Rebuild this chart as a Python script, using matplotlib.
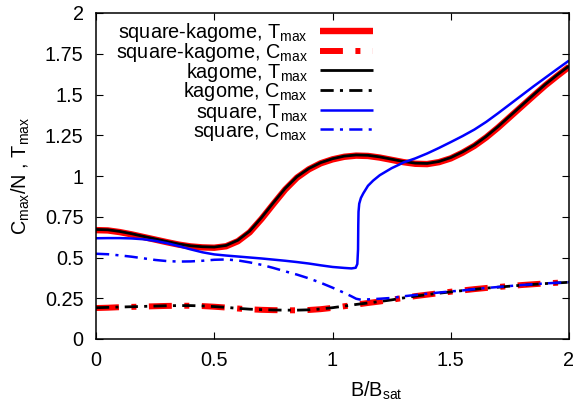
"""Peak positions of specific heat and temperature versus field."""

import matplotlib
matplotlib.use("Agg")
import matplotlib.pyplot as plt
from matplotlib.ticker import FixedLocator, FuncFormatter

plt.rcParams["font.family"] = ["Liberation Sans", "DejaVu Sans"]
plt.rcParams["mathtext.fontset"] = "custom"
plt.rcParams["mathtext.rm"] = "Liberation Sans"
plt.rcParams["mathtext.default"] = "regular"
plt.rcParams["lines.scale_dashes"] = False

FS = 14.3

# field grid used for the kagome-type curves
b_grid = [0.00, 0.05, 0.10, 0.15, 0.20, 0.25, 0.30, 0.35, 0.40, 0.45,
          0.50, 0.55, 0.60, 0.65, 0.70, 0.75, 0.80, 0.85, 0.90, 0.95,
          1.00, 1.05, 1.10, 1.15, 1.20, 1.25, 1.30, 1.35, 1.40, 1.45,
          1.50, 1.55, 1.60, 1.65, 1.70, 1.75, 1.80, 1.85, 1.90, 1.95, 2.00]

kag_t = [0.672, 0.670, 0.660, 0.646, 0.630, 0.614, 0.598, 0.583, 0.572, 0.566,
         0.564, 0.574, 0.606, 0.662, 0.745, 0.836, 0.924, 0.996, 1.046, 1.082,
         1.106, 1.122, 1.129, 1.127, 1.117, 1.103, 1.089, 1.079, 1.077, 1.089,
         1.113, 1.148, 1.190, 1.243, 1.303, 1.368, 1.433, 1.498, 1.562, 1.620, 1.675]

sqk_t = [0.668, 0.666, 0.656, 0.642, 0.626, 0.610, 0.594, 0.579, 0.568, 0.562,
         0.560, 0.569, 0.600, 0.655, 0.737, 0.828, 0.917, 0.990, 1.041, 1.078,
         1.102, 1.118, 1.125, 1.123, 1.113, 1.099, 1.085, 1.075, 1.073, 1.085,
         1.108, 1.143, 1.185, 1.237, 1.297, 1.362, 1.427, 1.492, 1.556, 1.614, 1.670]

kag_c = [0.192, 0.194, 0.196, 0.198, 0.200, 0.202, 0.204, 0.205, 0.205, 0.203,
         0.199, 0.194, 0.188, 0.183, 0.180, 0.178, 0.177, 0.177, 0.179, 0.184,
         0.192, 0.202, 0.212, 0.221, 0.230, 0.240, 0.252, 0.263, 0.272, 0.281,
         0.289, 0.297, 0.305, 0.312, 0.318, 0.324, 0.330, 0.335, 0.340, 0.344, 0.348]

sqk_c = [0.190, 0.192, 0.195, 0.197, 0.199, 0.201, 0.203, 0.204, 0.204, 0.202,
         0.198, 0.193, 0.187, 0.182, 0.179, 0.177, 0.176, 0.176, 0.178, 0.183,
         0.191, 0.201, 0.211, 0.221, 0.230, 0.241, 0.252, 0.263, 0.272, 0.281,
         0.290, 0.298, 0.306, 0.313, 0.319, 0.325, 0.331, 0.336, 0.341, 0.345, 0.349]

# square lattice: finer sampling around the jump near B ~ 1.1
sq_t_b = [0.00, 0.05, 0.10, 0.15, 0.20, 0.25, 0.30, 0.35, 0.40, 0.45,
          0.50, 0.55, 0.60, 0.65, 0.70, 0.75, 0.80, 0.85, 0.90, 0.95,
          1.00, 1.05, 1.08, 1.098, 1.105, 1.108, 1.109, 1.110, 1.113, 1.12,
          1.13, 1.15, 1.172, 1.20, 1.229, 1.25, 1.285, 1.30, 1.35, 1.40,
          1.45, 1.50, 1.55, 1.60, 1.65, 1.70, 1.75, 1.80, 1.85, 1.90, 1.95, 2.00]
sq_t = [0.618, 0.619, 0.619, 0.617, 0.612, 0.602, 0.588, 0.570, 0.550, 0.532,
        0.519, 0.512, 0.506, 0.500, 0.494, 0.487, 0.480, 0.472, 0.463, 0.452,
        0.442, 0.436, 0.433, 0.437, 0.460, 0.550, 0.700, 0.780, 0.830, 0.865,
        0.893, 0.940, 0.972, 1.005, 1.030, 1.048, 1.072, 1.083, 1.108, 1.138,
        1.172, 1.208, 1.245, 1.285, 1.332, 1.385, 1.440, 1.495, 1.550, 1.603, 1.656, 1.708]

sq_c_b = [0.00, 0.05, 0.10, 0.15, 0.20, 0.25, 0.30, 0.35, 0.40, 0.45,
          0.50, 0.55, 0.60, 0.65, 0.70, 0.75, 0.80, 0.85, 0.90, 0.95,
          1.00, 1.05, 1.08, 1.10, 1.12, 1.15, 1.20, 1.25, 1.30, 1.35,
          1.40, 1.45, 1.50, 1.55, 1.60, 1.65, 1.70, 1.75, 1.80, 1.85, 1.90, 1.95, 2.00]
sq_c = [0.523, 0.520, 0.513, 0.505, 0.495, 0.485, 0.478, 0.475, 0.476, 0.480,
        0.486, 0.488, 0.482, 0.470, 0.455, 0.436, 0.415, 0.395, 0.372, 0.345,
        0.315, 0.283, 0.262, 0.247, 0.241, 0.243, 0.247, 0.252, 0.262, 0.270,
        0.278, 0.285, 0.292, 0.298, 0.306, 0.313, 0.319, 0.325, 0.331, 0.336, 0.341, 0.345, 0.349]

DASH_THICK = (0, (16.5, 9.0, 3.6, 9.0))
DASH_THIN = (0, (9.5, 4.5, 2.2, 4.5))

series = [
    (b_grid, sqk_t, "red", 4.6, "-", "square-kagome, T$_{max}$"),
    (b_grid, sqk_c, "red", 4.3, DASH_THICK, "square-kagome, C$_{max}$"),
    (b_grid, kag_t, "black", 2.0, "-", "kagome, T$_{max}$"),
    (b_grid, kag_c, "black", 2.0, DASH_THIN, "kagome, C$_{max}$"),
    (sq_t_b, sq_t, "blue", 1.8, "-", "square, T$_{max}$"),
    (sq_c_b, sq_c, "blue", 1.8, DASH_THIN, "square, C$_{max}$"),
]

fig = plt.figure(figsize=(5.76, 4.03), dpi=100)
ax = fig.add_axes([96 / 576, 64 / 403, 473 / 576, 326 / 403])

for x, y, col, lw, ls, lab in series:
    ax.plot(x, y, color=col, lw=lw, linestyle=ls, solid_capstyle="butt",
            dash_capstyle="butt")

# gnuplot-style key: right-aligned labels, samples to the right
row_y = [0.946, 0.884, 0.824, 0.764, 0.702, 0.643]
for (x, y, col, lw, ls, lab), ry in zip(series, row_y):
    ax.plot([0.474, 0.586], [ry, ry], transform=ax.transAxes, color=col,
            lw=lw, linestyle=ls, solid_capstyle="butt", dash_capstyle="butt")
    ax.text(0.448, ry - 0.023, lab, transform=ax.transAxes, ha="right",
            va="baseline", fontsize=FS)

ax.set_xlim(0, 2)
ax.set_ylim(0, 2)
ax.xaxis.set_major_locator(FixedLocator([0, 0.5, 1, 1.5, 2]))
ax.yaxis.set_major_locator(FixedLocator([0, 0.25, 0.5, 0.75, 1, 1.25, 1.5, 1.75, 2]))
fmt = FuncFormatter(lambda v, p: "%g" % v)
ax.xaxis.set_major_formatter(fmt)
ax.yaxis.set_major_formatter(fmt)
ax.tick_params(direction="in", length=5, width=0.8, top=True, right=True,
               labelsize=FS, pad=9)
for sp in ax.spines.values():
    sp.set_linewidth(1.1)

ax.set_xlabel("B/B$_{sat}$", fontsize=FS)
ax.xaxis.set_label_coords((376 - 96) / 473, -0.126)
ax.set_ylabel("C$_{max}$/N , T$_{max}$", fontsize=FS)
ax.yaxis.set_label_coords(-0.135, 0.5)

fig.savefig("out.png", dpi=100)
